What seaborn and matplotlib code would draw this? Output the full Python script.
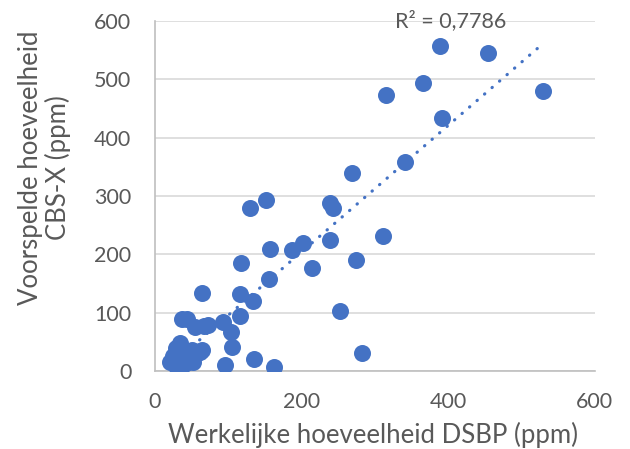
import matplotlib
matplotlib.use("Agg")
import matplotlib.pyplot as plt
import seaborn as sns
import pandas as pd

# Measured (DSBP) vs predicted (CBS-X) concentrations, ppm
werkelijk = [389, 454, 529, 366, 315, 392, 341, 269, 151, 130,
             239, 243, 311, 239, 202, 187, 157, 156, 214, 274,
             252, 282, 117, 64, 116, 134, 116, 37, 44, 55,
             67, 72, 93, 104, 105, 95, 135, 162,
             20, 25, 30, 34, 38, 37, 43, 45, 50, 52, 57, 61, 64, 48, 28]
voorspeld = [557, 545, 480, 494, 473, 434, 358, 340, 293, 280,
             288, 280, 232, 225, 219, 207, 209, 158, 177, 190,
             103, 31, 185, 134, 132, 120, 94, 89, 89, 75,
             78, 79, 84, 67, 41, 10, 21, 7,
             15, 25, 6, 48, 31, 8, 14, 20, 36, 15, 31, 33, 36, 24, 40]

x_ticks = [0, 200, 400, 600]
y_ticks = [0, 100, 200, 300, 400, 500, 600]
r2_label = "R² = 0,7786"

df = pd.DataFrame({"x": werkelijk, "y": voorspeld})

sns.set_style("white")
plt.rcParams["font.family"] = ["Lato", "DejaVu Sans"]

blue = "#4472C4"
grey_text = "#595959"

fig = plt.figure(figsize=(6.3, 4.49), dpi=100)
ax = fig.add_axes([0.246, 0.1737, 0.698, 0.7793])

ax.yaxis.grid(True, color="#D9D9D9", linewidth=1.2)
ax.set_axisbelow(True)

sns.scatterplot(data=df, x="x", y="y", ax=ax, s=150, color=blue,
                linewidth=0, zorder=3)
sns.regplot(data=df, x="x", y="y", ax=ax, scatter=False, ci=None,
            line_kws=dict(color=blue, linewidth=2.3,
                          linestyle=(0, (0.1, 3.0)),
                          dash_capstyle="round", zorder=4))

ax.set_xlim(0, 600)
ax.set_ylim(0, 600)
ax.set_xticks(x_ticks)
ax.set_yticks(y_ticks)
ax.tick_params(axis="both", labelsize=15.5, colors=grey_text, length=0)
ax.tick_params(axis="y", pad=17)
ax.tick_params(axis="x", direction="in", length=5, color="#BFBFBF", pad=15)

for side in ["top", "right"]:
    ax.spines[side].set_visible(False)
for side in ["left", "bottom"]:
    ax.spines[side].set_color("#BFBFBF")
    ax.spines[side].set_linewidth(1.2)

ax.set_xlabel("Werkelijke hoeveelheid DSBP (ppm)", fontsize=18.5,
              color=grey_text)
ax.set_ylabel("Voorspelde hoeveelheid\nCBS-X (ppm)", fontsize=18.5,
              color=grey_text, linespacing=1.1)
ax.xaxis.set_label_coords(0.495, -0.145)
ax.yaxis.set_label_coords(-0.19, 0.58)

ax.text(0.545, 1.0, r2_label, transform=ax.transAxes, fontsize=15.5,
        color=grey_text, ha="left", va="center")

fig.savefig("out.png", dpi=100)
